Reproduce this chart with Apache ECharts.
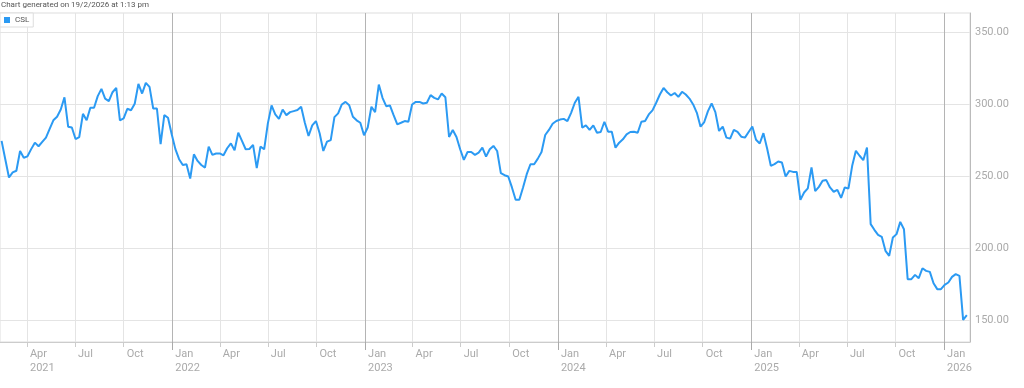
<!DOCTYPE html>
<html><head><meta charset="utf-8">
<script src="https://cdn.jsdelivr.net/npm/echarts@6/dist/echarts.min.js"></script>
<style>html,body{margin:0;padding:0;background:#fff}#c{width:1024px;height:388px}</style>
</head><body><div id="c"></div>
<script>
const seriesName = 'CSL';
const titleText = 'Chart generated on 19/2/2026 at 1:13 pm';
const firstWeek = [2021, 1, 12]; // weekly closes from 12 Feb 2021
const values = [
 274.7,262,249.3,252.8,254,267.7,263,264,269,273.5,271,274,277,283,289,291.5,296.5,305,284.6,284,276,277.4,293.5,289,297.7,297.7,305.8,310.8,304,302.3,308.5,311.5,289,290.3,297,296,300.5,314.3,307.6,315,312.2,297.2,297.2,272.4,292.6,290.8,279.3,269,262,
 258,258.5,248.6,265.4,260.8,258,256.2,270.7,265,266,266,264.7,269.6,273,268.2,280.4,274.7,268.9,269.1,271.9,255.8,270.7,268.9,286.9,299.3,293.1,290,296.5,292.6,294.7,295.4,296.1,298.4,287.3,278.1,285.5,288.5,280,267.7,274.2,275.3,291.2,293.8,300,301.8,299.5,291.5,289,287.3,278.6,284,
 298.4,294.7,313.8,304.6,298.8,299.3,292.6,286.2,287.3,288.5,288,300,301.8,301.8,300.7,301.2,306.5,304.6,303.5,307.6,305,277.4,282.3,277.4,268.9,261.5,267,267,265,266.6,270,263.8,268.9,271.2,267.7,252.3,250.9,250,242.4,233.9,233.9,242.4,251.6,258.5,258.5,262.4,267,278.8,282.3,286.6,288.5,289.5,
 290,288.5,294.2,301.2,305.3,283.9,285.5,282.3,285.5,280.4,280.9,288,281.1,281.1,270,273.5,275.8,279.3,280.9,281.1,280.4,288,288.5,293.1,295.9,301.2,306.9,311.5,308.5,306.2,308,305.3,308.8,306.9,304.1,300,294.2,284.6,287.8,295.4,300.7,294.7,281.6,284.6,277,276.3,282.3,280.9,277.6,277,280.9,
 284.7,275.5,272.9,280.1,269.4,257.4,258.6,260.4,259.7,250,253.9,253.2,253.2,233.8,238.9,241.7,256.3,239.8,242.8,247,247.5,242.4,239.4,240.7,235.2,242.4,241.7,257.4,267.8,264.4,261.3,270.1,216.9,213,209.5,208.1,198.4,194.9,207.6,210,218.5,213.4,178.7,178.7,181.7,179.4,186.3,184.5,183.8,175.9,171.8,171.8,174.8,176.4,180.3,182.2,181,150.5,153.7
];
const quarterTicks = ['2021-04-01','2021-07-01','2021-10-01','2022-04-01','2022-07-01','2022-10-01','2023-04-01','2023-07-01','2023-10-01','2024-04-01','2024-07-01','2024-10-01','2025-04-01','2025-07-01','2025-10-01'];
const yearTicks = ['2022-01-01','2023-01-01','2024-01-01','2025-01-01','2026-01-01'];
const yTicks = [150, 200, 250, 300, 350];
const monthNames = ['Jan','Feb','Mar','Apr','May','Jun','Jul','Aug','Sep','Oct','Nov','Dec'];

const ts = s => { const p = s.split('-').map(Number); return new Date(p[0], p[1]-1, p[2]).getTime(); };
const data = values.map((v, i) => [new Date(firstWeek[0], firstWeek[1], firstWeek[2] + 7*i).getTime(), v]);
const allTicks = quarterTicks.concat(yearTicks).map(ts).sort((a,b)=>a-b);
const firstLabel = allTicks[0];

const chart = echarts.init(document.getElementById('c'), null, {renderer:'canvas'});
const xMin = ts('2021-02-09'), xMax = ts('2026-02-19');
chart.setOption({
  animation: false,
  backgroundColor: '#fff',
  textStyle: {fontFamily: 'Roboto, "Liberation Sans", sans-serif'},
  title: {text: titleText, left: 1, top: 1, padding: 0,
    textStyle: {fontSize: 8, fontWeight: 'normal', color: '#555'}},
  legend: {left: 0, top: 13, data: [seriesName], icon: 'rect', itemWidth: 6, itemHeight: 6,
    padding: [3, 4, 3, 4], backgroundColor: '#fff', borderColor: '#ddd', borderWidth: 1, borderRadius: 0,
    textStyle: {fontSize: 8, color: '#555'}},
  grid: {left: 0, right: 54, top: 13, bottom: 46, show: true, borderColor: '#ddd', borderWidth: 1},
  xAxis: [{
    type: 'value', min: xMin, max: xMax, scale: true,
    axisLine: {show: true, lineStyle: {color: '#ccc'}},
    axisTick: {show: true, length: 5, lineStyle: {color: '#ccc'}, customValues: quarterTicks.map(ts)},
    splitLine: {show: true, lineStyle: {color: '#e4e4e4', width: 1}},
    axisLabel: {customValues: allTicks, align: 'left', padding: [0,0,0,3], margin: 5,
      color: '#aaa', fontSize: 11, lineHeight: 14,
      formatter: function (v) { const d = new Date(v); const m = monthNames[d.getMonth()];
        return (d.getMonth() === 0 || v === firstLabel) ? m + '\n' + d.getFullYear() : m; }}
  }, {
    type: 'value', min: xMin, max: xMax, scale: true, position: 'bottom',
    axisLine: {show: false},
    axisTick: {show: true, length: 8, lineStyle: {color: '#aaa'}, customValues: yearTicks.map(ts)},
    splitLine: {show: true, lineStyle: {color: '#b4b4b4', width: 1}},
    axisLabel: {show: false}
  }],
  yAxis: {
    type: 'value', position: 'right', min: 135.1, max: 363.5,
    axisLine: {show: true, lineStyle: {color: '#bbb'}},
    axisTick: {show: false, customValues: yTicks},
    splitLine: {show: true, lineStyle: {color: '#e4e4e4'}},
    axisLabel: {customValues: yTicks, color: '#aaa', fontSize: 11, margin: 5,
      formatter: v => v.toFixed(2)}
  },
  series: [{
    name: seriesName, type: 'line', data: data, showSymbol: false, symbol: 'none',
    lineStyle: {color: '#2b9af3', width: 2}, itemStyle: {color: '#2b9af3'}
  }]
});
</script></body></html>
